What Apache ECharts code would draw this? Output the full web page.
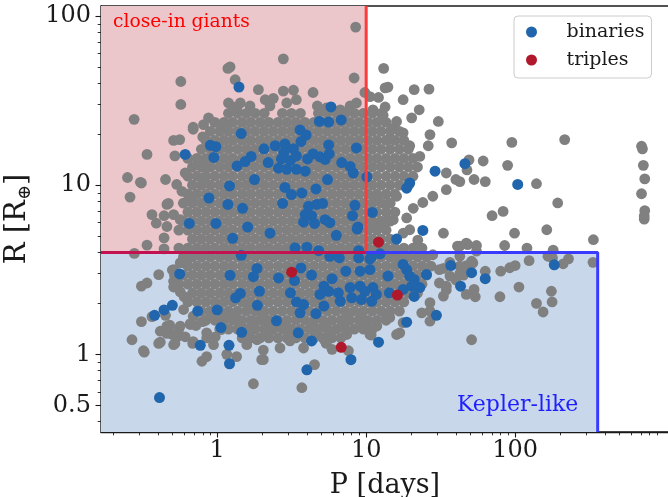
<!DOCTYPE html>
<html><head><meta charset="utf-8">
<script src="https://cdn.jsdelivr.net/npm/echarts@6/dist/echarts.min.js"></script>
<style>html,body{margin:0;padding:0;background:#fff}#c{width:668px;height:497px}</style>
</head><body><div id="c"></div>
<script>
// axis ranges and ticks
const X_MIN = 0.166, X_MAX = 2000, Y_MIN = 0.3475, Y_MAX = 114.6;
const xMajorTicks = [1, 10, 100];
const xMinorTicks = [0.2,0.3,0.4,0.5,0.6,0.7,0.8,0.9,2,3,4,5,6,7,8,9,20,30,40,50,60,70,80,90,200,300,400,500,600,700,800,900];
const yMajorTicks = [0.5, 1, 10, 100];
const yMinorTicks = [0.4,0.6,0.7,0.8,0.9,2,3,4,5,6,7,8,9,20,30,40,50,60,70,80,90];
// region boundaries
const giantMaxP = 10, radiusSplit = 4, keplerMaxP = 358;

// gray: dense core, rows of [R, [P...]]
const grayCoreRows = [
 [26.6,[1.19,1.37,1.57,1.8,2.07,2.74,3.15,3.62,4.78,5.49,6.31,7.25,8.33,9.58,11,12.6]],
 [23.5,[0.965,1.11,1.27,1.47,1.68,1.94,2.22,2.56,2.94,3.37,3.88,4.46,5.12,5.89,6.76,7.77,8.93,10.3,11.8,13.6]],
 [20.8,[0.9,1.04,1.19,1.37,1.57,1.8,2.07,2.38,2.74,3.15,3.62,4.16,4.78,5.49,6.31,7.25,8.33,9.58,11,12.6,14.5,16.7]],
 [18.4,[0.84,0.965,1.11,1.27,1.47,1.68,1.94,2.22,2.56,2.94,3.37,3.88,4.46,5.12,5.89,6.76,7.77,8.93,10.3,11.8,13.6,15.6,17.9]],
 [16.3,[0.783,0.9,1.04,1.19,1.37,1.57,1.8,2.07,2.38,2.74,3.15,3.62,4.16,4.78,5.49,6.31,7.25,8.33,9.58,11,12.6,14.5,16.7,19.2]],
 [14.4,[0.636,0.731,0.84,0.965,1.11,1.27,1.47,1.68,1.94,2.22,2.56,2.94,3.37,3.88,4.46,5.12,5.89,6.76,7.77,8.93,10.3,11.8,13.6,15.6,17.9,20.6]],
 [12.8,[0.682,0.783,0.9,1.04,1.19,1.37,1.57,1.8,2.07,2.38,2.74,3.15,3.62,4.16,4.78,5.49,6.31,7.25,8.33,9.58,11,12.6,14.5,16.7,19.2,22.1]],
 [11.3,[0.636,0.731,0.84,0.965,1.11,1.27,1.47,1.68,1.94,2.22,2.56,2.94,3.37,3.88,4.46,5.12,5.89,6.76,7.77,8.93,10.3,11.8,13.6,15.6,17.9,20.6]],
 [10.0,[0.682,0.783,0.9,1.04,1.19,1.37,1.57,1.8,2.07,2.38,2.74,3.15,3.62,4.16,4.78,5.49,6.31,7.25,8.33,9.58,11,12.6,14.5,16.7,19.2]],
 [8.85,[0.636,0.731,0.84,0.965,1.11,1.27,1.47,1.68,1.94,2.22,2.56,2.94,3.37,3.88,4.46,5.12,5.89,6.76,7.77,8.93,10.3,11.8,13.6,15.6]],
 [7.83,[0.593,0.682,0.783,0.9,1.04,1.19,1.37,1.57,1.8,2.07,2.38,2.74,3.15,3.62,4.16,4.78,5.49,6.31,7.25,8.33,9.58,11,12.6,14.5]],
 [6.93,[0.636,0.731,0.84,0.965,1.11,1.27,1.47,1.68,1.94,2.22,2.56,2.94,3.37,3.88,4.46,5.12,5.89,6.76,7.77,8.93,10.3,11.8,13.6,15.6]],
 [6.13,[0.593,0.682,0.783,0.9,1.04,1.19,1.37,1.57,1.8,2.07,2.38,2.74,3.15,3.62,4.16,4.78,5.49,6.31,7.25,8.33,9.58,11,12.6,14.5]],
 [5.42,[0.553,0.636,0.731,0.84,0.965,1.11,1.27,1.47,1.68,1.94,2.22,2.56,2.94,3.37,3.88,4.46,5.12,5.89,6.76,7.77,8.93,10.3,11.8,13.6]],
 [4.80,[0.682,0.783,0.9,1.04,1.19,1.37,1.57,1.8,2.07,2.38,2.74,3.15,3.62,4.16,4.78,5.49,6.31,7.25,8.33,9.58,11,12.6,14.5]],
 [4.25,[0.553,0.636,0.731,0.84,0.965,1.11,1.27,1.47,1.68,1.94,2.22,2.56,2.94,3.37,3.88,4.46,5.12,5.89,6.76,7.77,8.93,10.3,11.8,13.6,15.6,17.9,20.6,23.7]],
 [3.76,[0.593,0.682,0.783,0.9,1.04,1.19,1.37,1.57,1.8,2.07,2.38,2.74,3.15,3.62,4.16,4.78,5.49,6.31,7.25,8.33,9.58,11,12.6,14.5,16.7,19.2,22.1,25.4]],
 [3.32,[0.636,0.731,0.84,0.965,1.11,1.27,1.47,1.68,1.94,2.22,2.56,2.94,3.37,3.88,4.46,5.12,5.89,6.76,7.77,8.93,10.3,11.8,13.6,15.6,17.9,20.6,23.7,27.2]],
 [2.94,[0.516,0.593,0.682,0.783,0.9,1.04,1.19,1.37,1.57,1.8,2.07,2.38,2.74,3.15,3.62,4.16,4.78,5.49,6.31,7.25,8.33,9.58,11,12.6,14.5,16.7,19.2,22.1,25.4]],
 [2.60,[0.553,0.636,0.731,0.84,0.965,1.11,1.27,1.47,1.68,1.94,2.22,2.56,2.94,3.37,3.88,4.46,5.12,5.89,6.76,7.77,8.93,10.3,11.8,13.6,15.6,17.9,20.6,23.7]],
 [2.30,[0.682,0.783,0.9,1.04,1.19,1.37,1.57,1.8,2.07,2.38,2.74,3.15,3.62,4.16,4.78,5.49,6.31,7.25,8.33,9.58,11,12.6,14.5,16.7,19.2,22.1]],
 [2.04,[0.636,0.731,0.84,0.965,1.11,1.27,1.47,1.68,1.94,2.22,2.56,2.94,3.37,3.88,4.46,5.12,5.89,6.76,7.77,8.93,10.3,11.8,13.6,15.6,17.9]],
 [1.80,[0.783,0.9,1.04,1.19,1.37,1.57,1.8,2.07,2.38,2.74,3.15,3.62,4.16,4.78,5.49,6.31,7.25,8.33,9.58,11,12.6,14.5,16.7]],
 [1.59,[0.84,0.965,1.11,1.27,1.47,1.68,1.94,2.22,2.56,2.94,3.37,3.88,4.46,5.12,5.89,6.76,7.77,8.93,10.3,11.8,13.6]],
 [1.41,[1.04,1.19,1.37,1.57,1.8,2.07,2.38,2.74,3.15,3.62,4.16,4.78,5.49,6.31,7.25,8.33,9.58,11]],
 [1.25,[1.47,1.68,1.94,2.22,2.56,2.94,3.37,3.88,4.46,5.12,5.89,6.76]]
];
// gray: scattered points [P, R]
const graySparse = [
 [8.5,86],[2.78,55.8],[1.18,49],[0.57,41],[1.32,42],[0.57,30],[0.277,24.5],[8.3,43],[13.1,49],[13.4,37.6],[14,38],[21,36.7],[26.4,37],[9.8,35.3],[10.6,33.4],[12.1,33],[17.7,32],[22.7,27.9],[20.2,25],[16,23.8],[13.4,29],[11.1,27.9],[13,25.9],[30.5,23.8],[37.5,17.8],[26.8,19.9],[26.1,17.1],[22.9,14.8],[19.6,17.1],[17.7,20.4],[15.3,21.7],[14.4,18.8],[34.5,11.8],[40,10.8],[49,14.1],[2.78,36],[3.25,36.4],[4.4,35.3],[3.4,32],[2.38,32.6],[1.89,36.7],[1.22,50],[4.7,29.4],[5.4,28.6],[6.7,27.9],[7.8,29.4],[8.6,30.6],[1.66,29.4],[1.36,27.9],[2.26,29.4],[2.93,30.6],[2.1,32],[1.19,30.6],[1.43,30.6],[1.28,29],[0.875,25],[0.81,22.8],[0.69,21.4],[0.69,22],[1.1,22],[0.8,19.3],[0.51,18.4],[0.56,18.6],[0.52,14.9],[0.338,15.2],[0.45,10.8],[0.31,10.3],[0.365,6.7],[0.46,7.7],[0.535,10.1],[0.58,9.2],[0.61,11.8],[0.68,8.05],[0.75,13.6],[0.85,12.9],[0.81,11],[0.25,11.1],[0.305,10.4],[0.26,8.5],[0.47,7.8],[0.39,5.96],[0.44,6.6],[0.51,6.7],[0.565,6.25],[0.46,5.7],[0.338,4.42],[0.44,4.88],[0.44,4.2],[0.278,3.95],
 [11.8,8.4],[13.7,7.7],[15.2,6.25],[13.7,6.1],[18.7,6.4],[17.7,5.2],[24,7.9],[28,8.6],[34.5,9.4],[33,5.2],[41,4.36],[47,4.55],[42.5,3.32],[36.5,2.9],[45,3.17],[34.5,2.53],[26.8,2.02],[23.6,1.76],[26.8,1.57],[17.7,1.54],[14.4,1.65],[16.8,1.34],[33,2.21],[31,2.64],[42.5,3.8],[13,5.96],[11.1,5.96],[20.7,7.3],[16,8.6],[19.6,5.45],[22.2,4.73],[28,3.88],[16,3.8],[31,3.17],[26.8,1.8],[34.5,2.4],[40,2.75],[45,2.94],[33,3.22],[36.5,3.5],[51,3.55],[47,3.35],[49,3.17],[42.5,3.0],
 [95,17.9],[215,18.6],[61,13.9],[89,13.1],[47.5,12.3],[53,10.8],[63,10.5],[42.5,10.5],[139,10.2],[705,17],[715,16.4],[725,13.1],[741,10.9],[705,8.9],[741,7.07],[735,6.57],[735,6.3],[193,7.85],[70,6.6],[83,7.0],[99,5.2],[163,5.45],[85,4.4],[120,4.25],[48,4.45],[55,4.4],[42.5,4.36],[55,4.07],[180,4.13],[166,3.8],[178,3.72],[210,3.43],[228,3.67],[335,4.76],[333,3.5],[124,3.58],[100,3.35],[92,3.25],[80,3.1],[63,3.1],[52,3.47],[53,2.42],[54,2.19],[47,2.26],[106,2.5],[79,2.19],[175,2.36],[177,2.04],[139,2.0],[154,1.78],[51,1.22],
 [0.405,2.96],[0.338,2.64],[0.31,2.53],[0.51,3.17],[0.565,3.47],[0.625,3.4],[0.51,2.7],[0.5,3.15],[0.51,2.5],[0.565,2.34],[0.6,2.19],[0.595,1.84],[0.66,1.5],[0.565,1.47],[0.46,1.47],[0.415,1.37],[0.5,1.31],[0.405,1.16],[0.52,1.16],[0.69,1.19],[0.85,1.25],[0.945,1.14],[0.85,0.97],[0.79,0.91],[1.16,1.0],[1.35,0.97],[1.58,1.14],[1.85,1.22],[2.2,1.31],[1.99,0.93],[1.75,0.67],[0.32,1.05],[3.7,0.635],[0.268,1.22],[0.324,1.03],[0.415,1.18],[0.51,1.14],[0.685,1.16],[0.31,1.56],[0.365,1.67],[0.45,1.7],[0.48,1.49],[0.46,1.33],[0.55,1.39],[0.61,1.27],[0.54,1.27],[0.66,1.52],[0.72,1.48],[0.79,1.56],[0.85,1.34],[0.97,1.27],[1.06,1.4],[0.9,1.68],[0.81,1.57],[0.69,1.68],[1.1,1.65],[1.29,1.65],[1.42,1.5],[1.58,1.31],[1.75,1.57],[2.15,1.5],[2.04,1.72],[1.66,1.89],
 [2.64,1.09],[3.8,1.09],[5.3,1.2],[5.9,1.07],[7.6,1.05],[4.5,0.87],[7.4,1.31],[7.4,1.72],[9.1,1.72],[10,1.5],[13.7,1.72],[7.0,1.5],[5.3,1.5],[4.4,1.5],[4.65,1.31],[3.08,1.34],[2.78,1.5],[2.33,1.44],[3.08,1.2],[11.8,1.47],[10.6,1.31],[16,1.31],[2.04,1.06],[2.04,0.93],[5.7,1.27],[5.4,1.16],[7.2,1.56],[9.3,1.46],[10.8,1.3],[13.7,1.64]
];
// binaries [P, R]
const binaries = [
 [1.40,38],[1.45,20.2],[0.90,17.2],[0.98,16.9],[0.61,15.2],[0.95,14.6],[2.06,16.4],[1.36,13.0],[1.54,13.8],[1.69,14.8],[2.2,13.6],[1.78,10.8],[1.21,9.9],[0.88,8.4],[1.18,7.7],[1.48,7.3],[0.65,5.94],[0.98,5.94],[1.6,5.66],[5.8,29],[4.85,23.8],[5.6,23.6],[6.8,24.3],[3.6,21.2],[3.95,19.8],[2.45,17.1],[2.85,17.5],[2.8,15.6],[3.25,16.4],[3.65,18.1],[3.4,14.9],[2.7,14.3],[3.1,14.0],[2.58,12.6],[2.93,12.4],[3.4,12.4],[3.9,12.1],[4.04,14.3],[4.4,15.3],[4.9,14.7],[5.3,14.2],[5.65,15.3],[5.6,17.3],[5.5,10.8],[6.85,13.6],[7.8,12.9],[8.2,11.8],[8.6,16.6],[10.1,11.2],[2.85,9.7],[3.15,8.8],[3.7,9.0],[4.6,9.5],[2.75,7.8],[4.1,7.5],[4.65,7.7],[5.1,7.8],[3.9,6.7],[4.3,6.6],[3.8,6.04],[4.5,5.94],[5.3,6.25],[5.7,6.0],[8.4,7.6],[8.1,6.6],[8.8,5.66],[6.3,5.05],[8.7,5.5],[2.26,5.2],[1.27,4.85],[19.6,10.3],[18.7,9.6],[29,12.1],[46,13.4],[104,10.1],[11,6.9],[24,5.4],[16,4.8],
 [1.45,3.85],[0.56,2.99],[1.22,2.93],[1.85,3.22],[1.75,2.88],[1.92,2.36],[1.43,2.29],[1.33,2.16],[1.86,1.95],[0.5,1.95],[0.44,1.83],[0.38,1.7],[0.74,1.8],[1.0,1.83],[1.06,1.44],[1.46,1.35],[0.77,1.13],[1.2,1.13],[1.21,0.88],[3.33,4.26],[4.0,4.3],[4.8,4.1],[5.7,3.8],[6.6,3.72],[8.9,4.1],[8.9,3.72],[10.9,3.8],[12.4,3.93],[2.58,2.83],[3.3,2.73],[3.65,3.24],[4.3,2.94],[7.3,3.1],[9.1,3.1],[10.6,3.17],[14,2.9],[5.9,2.8],[5.2,2.53],[4.9,2.26],[5.6,2.36],[6.5,2.31],[6.7,2.06],[7.8,2.48],[8.0,2.16],[9.1,2.53],[9.8,2.36],[9.3,2.11],[11.1,2.48],[11.7,2.26],[10.9,2.06],[14.3,2.31],[3.1,2.31],[3.4,2.04],[3.8,1.97],[3.6,1.76],[4.6,1.74],[5.2,1.93],[2.5,1.58],[3.5,1.34],[4.3,1.2],[12.1,1.18],[7.9,0.93],[4.0,0.81],[17.7,3.4],[18.7,3.17],[19.6,2.9],[21,2.77],[21.7,2.53],[20.2,2.53],[22.9,2.48],[21,2.2],[17.7,2.42],[25.4,2.96],[29.6,1.7],[18.7,1.55],[10.6,3.67],[37,3.35],[43,2.53],[51,3.04],[63,2.8],[183,3.38],[0.41,0.555]
];
// triples [P, R]
const triples = [[12.1,4.6],[3.16,3.06],[16.2,2.24],[6.8,1.10]];

const grayAll = [];
grayCoreRows.forEach(function (row) { row[1].forEach(function (p) { grayAll.push([p, row[0]]); }); });
graySparse.forEach(function (d) { grayAll.push(d); });

const FONT = 'DejaVu Serif';
const INK = '#1a1a1a';
function fmt(v) { return String(Math.round(v * 1000) / 1000); }

const chart = echarts.init(document.getElementById('c'), null, {renderer: 'canvas'});
const axisLineStyle = {color: INK, width: 1.3};
chart.setOption({
  animation: false,
  backgroundColor: '#ffffff',
  grid: {left: 101, top: 6, width: 608, height: 426, containLabel: false, outerBoundsMode: 'none',
         show: true, borderColor: INK, borderWidth: 1.3, backgroundColor: 'transparent'},
  xAxis: [
    {type: 'log', logBase: 10, min: X_MIN, max: X_MAX, position: 'bottom',
     axisLine: {show: true, onZero: false, lineStyle: axisLineStyle},
     axisTick: {show: true, inside: false, length: 5.5, lineStyle: {color: INK, width: 1.1}, customValues: xMajorTicks},
     axisLabel: {show: true, customValues: xMajorTicks, formatter: fmt, fontFamily: FONT, fontSize: 24, color: INK, margin: 7},
     splitLine: {show: false}, minorTick: {show: false}, minorSplitLine: {show: false},
     name: 'P [days]', nameLocation: 'middle', nameGap: 40,
     nameTextStyle: {fontFamily: FONT, fontSize: 27, color: INK, padding: [0, 40, 0, 0]}},
    {type: 'log', logBase: 10, min: X_MIN, max: X_MAX, position: 'bottom',
     axisLine: {show: false, onZero: false},
     axisTick: {show: true, inside: false, length: 3.3, lineStyle: {color: INK, width: 0.9}, customValues: xMinorTicks},
     axisLabel: {show: false}, splitLine: {show: false}}
  ],
  yAxis: [
    {type: 'log', logBase: 10, min: Y_MIN, max: Y_MAX, position: 'left',
     axisLine: {show: true, onZero: false, lineStyle: axisLineStyle},
     axisTick: {show: true, inside: false, length: 5.5, lineStyle: {color: INK, width: 1.1}, customValues: yMajorTicks},
     axisLabel: {show: true, customValues: yMajorTicks, formatter: fmt, fontFamily: FONT, fontSize: 24, color: INK, margin: 10},
     splitLine: {show: false}, minorTick: {show: false},
     name: '{a|R [R}{b|⊕}{a|]}', nameLocation: 'middle', nameGap: 61,
     nameTextStyle: {rich: {
       a: {fontFamily: FONT, fontSize: 29, color: INK},
       b: {fontFamily: FONT, fontSize: 18, color: INK, padding: [15, 0, 0, 0]}
     }}},
    {type: 'log', logBase: 10, min: Y_MIN, max: Y_MAX, position: 'left',
     axisLine: {show: false, onZero: false},
     axisTick: {show: true, inside: false, length: 3.3, lineStyle: {color: INK, width: 0.9}, customValues: yMinorTicks},
     axisLabel: {show: false}, splitLine: {show: false}}
  ],
  legend: {
    data: ['binaries', 'triples'], orient: 'vertical', left: 514, top: 16,
    itemWidth: 30, itemHeight: 11, itemGap: 8, padding: [6, 7, 8, 12],
    backgroundColor: 'rgba(255,255,255,0.85)', borderColor: '#cccccc', borderWidth: 1, borderRadius: 4,
    icon: 'circle',
    textStyle: {fontFamily: FONT, fontSize: 19, color: INK, lineHeight: 20, padding: [0, 0, 0, 15]}
  },
  graphic: [
    {type: 'text', left: 113, top: 13, z: 100, style: {text: 'close-in giants', fill: '#ff0000', font: '18.7px "DejaVu Serif"'}},
    {type: 'text', left: 457, top: 394, z: 100, style: {text: 'Kepler-like', fill: '#1f1fff', font: '22px "DejaVu Serif"'}}
  ],
  series: [
    {type: 'scatter', name: 'regions', data: [], z: 1, silent: true,
     markArea: {silent: true, data: [
       [{coord: [X_MIN, radiusSplit], itemStyle: {color: '#ebc6cb', opacity: 1}}, {coord: [giantMaxP, Y_MAX]}],
       [{coord: [X_MIN, Y_MIN], itemStyle: {color: '#c8d8ea', opacity: 1}}, {coord: [keplerMaxP, radiusSplit]}]
     ]}},
    {type: 'scatter', name: 'all', data: grayAll, symbolSize: 10.8, z: 2, silent: true,
     itemStyle: {color: '#808080', opacity: 1}},
    {type: 'scatter', name: 'binaries', data: binaries, symbolSize: 11, z: 3, silent: true,
     itemStyle: {color: '#2166ac', opacity: 1}},
    {type: 'scatter', name: 'triples', data: triples, symbolSize: 11, z: 4, silent: true,
     itemStyle: {color: '#b2182b', opacity: 1}},
    {type: 'line', name: 'giantEdge', data: [[giantMaxP, radiusSplit], [giantMaxP, Y_MAX]], z: 5, silent: true,
     symbol: 'none', lineStyle: {color: '#ff3a3a', width: 3}},
    {type: 'line', name: 'splitLeft', data: [[X_MIN, radiusSplit], [giantMaxP, radiusSplit]], z: 5, silent: true,
     symbol: 'none', lineStyle: {color: '#c2124f', width: 3}},
    {type: 'line', name: 'keplerEdge', data: [[giantMaxP, radiusSplit], [keplerMaxP, radiusSplit], [keplerMaxP, Y_MIN]], z: 5, silent: true,
     symbol: 'none', lineStyle: {color: '#3a3aff', width: 3}}
  ]
});
</script>
</body></html>
